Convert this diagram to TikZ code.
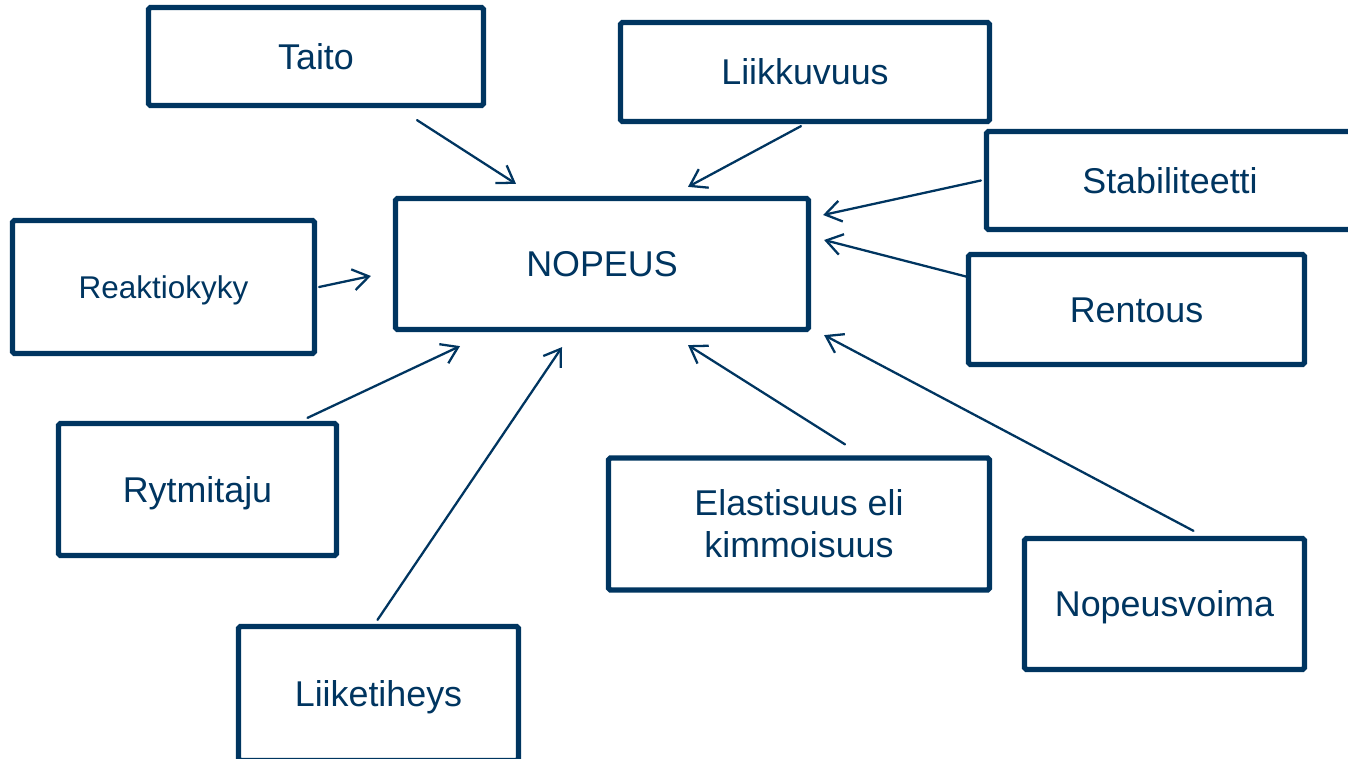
\documentclass[tikz,border=0pt]{standalone}
\usepackage{fontspec}
\setmainfont{Liberation Sans}
\usetikzlibrary{arrows.meta}
\definecolor{navy}{RGB}{0,53,96}
\tikzset{
  >={Straight Barb[length=9pt,width=12pt]},
  % Laatikot
  box base/.style={draw=navy,line width=3pt,rounded corners=1pt,text=navy,align=center,
    inner sep=0pt,font=\fontsize{20.4}{24}\selectfont},
  box/.style={box base,text height=14.6pt,text depth=0pt},
  box small/.style={box,font=\fontsize{17.9}{21}\selectfont,text height=12.8pt},
  % Nuolet
  connect arrow/.style={->,navy,line width=1.3pt,line cap=round}
}
\begin{document}
\begin{tikzpicture}[x=0.02cm,y=-0.02cm]
  \clip (0,0) rectangle (1348,759);
  \node[box,minimum width=8.26cm,minimum height=2.62cm] (nopeus) at (602,264) {NOPEUS};
  \node[box,minimum width=6.70cm,minimum height=1.96cm] (taito) at (316,56.5) {Taito};
  \node[box,minimum width=7.38cm,minimum height=1.98cm] (liikkuvuus) at (805,72) {Liikkuvuus};
  \node[box,minimum width=7.34cm,minimum height=1.96cm] (stabiliteetti) at (1170,180.5) {Stabiliteetti};
  \node[box,minimum width=6.72cm,minimum height=2.20cm] (rentous) at (1136.5,309.5) {Rentous};
  \node[box small,minimum width=6.04cm,minimum height=2.66cm] (reaktiokyky) at (163.5,287) {Reaktiokyky};
  \node[box,minimum width=5.56cm,minimum height=2.64cm] (rytmitaju) at (197.5,489.5) {Rytmitaju};
  \node[box base,minimum width=7.62cm,minimum height=2.64cm] (elastisuus) at (799,524) {Elastisuus eli\\kimmoisuus};
  \node[box,minimum width=5.60cm,minimum height=2.62cm] (nopeusvoima) at (1164.5,604) {Nopeusvoima};
  \node[box,minimum width=5.60cm,minimum height=2.68cm] (liiketiheys) at (378.5,693.5) {Liiketiheys};

  \draw[connect arrow] ([shift={(101,12)}]taito.south) -- ([shift={(-86,-12)}]nopeus.north);
  \draw[connect arrow] ([shift={(-4,2)}]liikkuvuus.south) -- ([shift={(86,-9)}]nopeus.north);
  \draw[connect arrow] ([shift={(-3,0)}]stabiliteetti.west) -- ([shift={(12,-49)}]nopeus.east);
  \draw[connect arrow] ([shift={(0,-33)}]rentous.west) -- ([shift={(13,-24)}]nopeus.east);
  \draw[connect arrow] ([shift={(2,0)}]reaktiokyky.east) -- ([shift={(-22,12)}]nopeus.west);
  \draw[connect arrow] ([shift={(110,-3)}]rytmitaju.north) -- ([shift={(-142,14)}]nopeus.south);
  \draw[connect arrow] ([shift={(-1,-4)}]liiketiheys.north) -- ([shift={(-40,15)}]nopeus.south);
  \draw[connect arrow] ([shift={(46,-11)}]elastisuus.north) -- ([shift={(86,13)}]nopeus.south);
  \draw[connect arrow] ([shift={(29,-5)}]nopeusvoima.north) -- ([shift={(13,3)}]nopeus.south east);
\end{tikzpicture}
\end{document}
